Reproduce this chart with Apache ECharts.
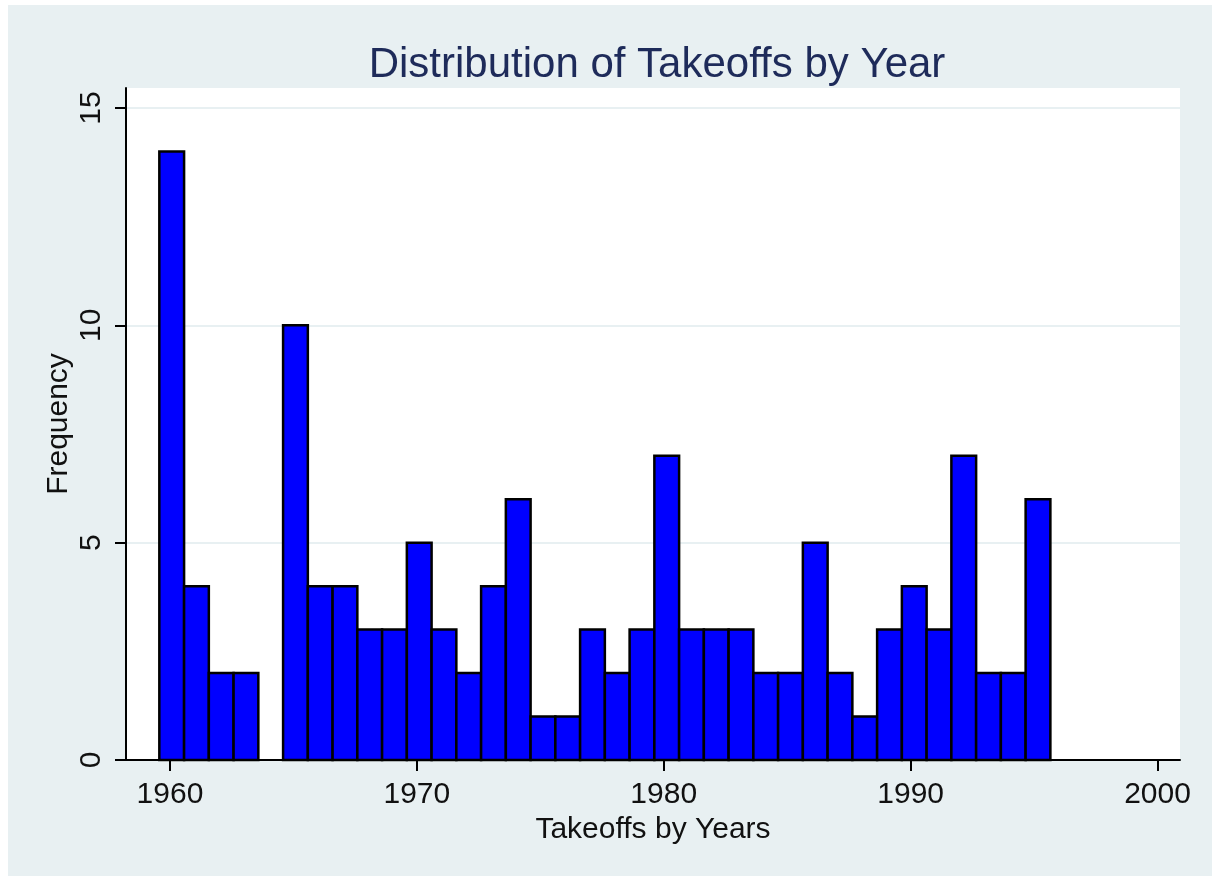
<!DOCTYPE html>
<html>
<head>
<meta charset="utf-8">
<title>Distribution of Takeoffs by Year</title>
<script src="https://cdn.jsdelivr.net/npm/echarts@6/dist/echarts.min.js"></script>
<style>
  html, body { margin: 0; padding: 0; background: #ffffff; }
  #chart { position: absolute; left: 8px; top: 5px; width: 1204px; height: 871px; }
</style>
</head>
<body>
<div id="chart"></div>
<script>
// histogram bins: one bin per year, starting just below 1960
const binStart = 1959.57;
const binWidth = 1.0025;
const binYears = [
  1960, 1961, 1962, 1963, 1964, 1965, 1966, 1967, 1968, 1969,
  1970, 1971, 1972, 1973, 1974, 1975, 1976, 1977, 1978, 1979,
  1980, 1981, 1982, 1983, 1984, 1985, 1986, 1987, 1988, 1989,
  1990, 1991, 1992, 1993, 1994, 1995
];
const frequency = [
  14, 4, 2, 2, 0, 10, 4, 4, 3, 3,
  5, 3, 2, 4, 6, 1, 1, 3, 2, 3,
  7, 3, 3, 3, 2, 2, 5, 2, 1, 3,
  4, 3, 7, 2, 2, 6
];
const xTicks = [1960, 1970, 1980, 1990, 2000];
const yTicks = [0, 5, 10, 15];

const binData = binYears.map(function (y, i) {
  const lo = binStart + i * binWidth;
  return [lo, lo + binWidth, frequency[i]];
});

const chart = echarts.init(document.getElementById('chart'));

const font = 'Liberation Sans, Arial, sans-serif';

chart.setOption({
  backgroundColor: '#e8f0f2',
  animation: false,
  title: {
    text: 'Distribution of Takeoffs by Year',
    left: 644,
    top: 34,
    textAlign: 'center',
    textStyle: {
      color: '#1e2b5a',
      fontFamily: font,
      fontSize: 42,
      fontWeight: 'normal'
    }
  },
  grid: {
    left: 118,
    right: 32,
    top: 83,
    bottom: 116,
    show: true,
    backgroundColor: '#ffffff',
    borderWidth: 0
  },
  xAxis: {
    type: 'value',
    min: 1958.22,
    max: 2000.91,
    name: 'Takeoffs by Years',
    nameLocation: 'middle',
    nameGap: 53,
    nameTextStyle: { color: '#111', fontFamily: font, fontSize: 30 },
    axisLine: { show: true, onZero: false, lineStyle: { color: '#000', width: 2 } },
    axisTick: { show: true, length: 11, customValues: xTicks, lineStyle: { color: '#000', width: 2 } },
    axisLabel: {
      customValues: xTicks,
      formatter: function (v) { return String(v); },
      margin: 20,
      color: '#111',
      fontFamily: font,
      fontSize: 30
    },
    splitLine: { show: false }
  },
  yAxis: {
    type: 'value',
    min: 0,
    max: 15.46,
    name: 'Frequency',
    nameLocation: 'middle',
    nameGap: 52,
    nameMoveOverlap: false,
    nameTextStyle: { color: '#111', fontFamily: font, fontSize: 30 },
    axisLine: { show: true, lineStyle: { color: '#000', width: 2 } },
    axisTick: { show: true, length: 11, customValues: yTicks, lineStyle: { color: '#000', width: 2 } },
    axisLabel: {
      customValues: yTicks,
      rotate: 90,
      margin: 19,
      color: '#111',
      fontFamily: font,
      fontSize: 30
    },
    splitLine: { show: true, lineStyle: { color: '#e8f0f2', width: 2 } }
  },
  series: [
    {
      type: 'custom',
      data: binData,
      encode: { x: [0, 1], y: 2 },
      renderItem: function (params, api) {
        const v = api.value(2);
        if (!v) return null;
        const p0 = api.coord([api.value(0), 0]);
        const p1 = api.coord([api.value(1), v]);
        return {
          type: 'rect',
          shape: { x: p0[0], y: p1[1], width: p1[0] - p0[0], height: p0[1] - p1[1] },
          style: { fill: '#0000ff', stroke: '#000', lineWidth: 2.5 }
        };
      }
    }
  ]
});
</script>
</body>
</html>
